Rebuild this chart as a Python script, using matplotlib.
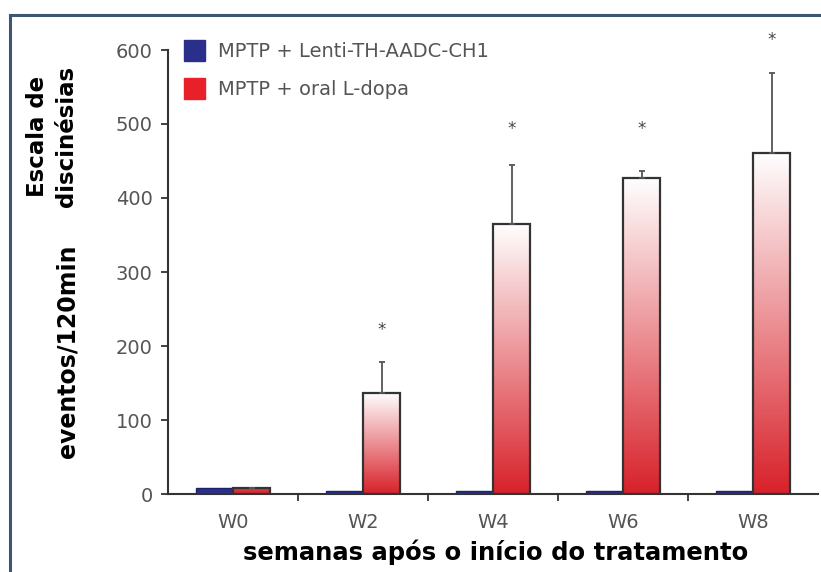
import numpy as np
import matplotlib
matplotlib.use("Agg")
import matplotlib.pyplot as plt
from matplotlib.colors import LinearSegmentedColormap
from matplotlib.patches import Patch
from matplotlib.lines import Line2D

# data
categories = ['W0', 'W2', 'W4', 'W6', 'W8']
lenti = [8, 4, 4, 4, 4]
ldopa = [8, 137, 365, 427, 461]
ldopa_err = [0, 41, 80, 9, 108]
star_y = [None, 222, 493, 493, 614]
yticks = [0, 100, 200, 300, 400, 500, 600]

W, H = 821, 572
fig = plt.figure(figsize=(W / 100, H / 100), dpi=100)
ax = fig.add_axes([168 / W, 78 / H, 650 / W, 444 / H])

grad_cmap = LinearSegmentedColormap.from_list('redfade', ['#d8212a', '#ffffff'])
grad = np.linspace(0, 1, 256).reshape(-1, 1)

x = np.arange(len(categories))
bw = 0.285

# blue bars
ax.bar(x - bw / 2, lenti, bw, color='#2b2f8c', edgecolor='#1e2266', linewidth=1.0, zorder=2)

# red gradient bars (very short bars stay fully red)
for xi, h in zip(x, ldopa):
    ax.imshow(grad * min(1.0, h / 60), extent=[xi, xi + bw, 0, h], origin='lower',
              aspect='auto', cmap=grad_cmap, vmin=0, vmax=1, zorder=2,
              interpolation='bilinear')
ax.bar(x + bw / 2, ldopa, bw, facecolor='none', edgecolor='#333333', linewidth=1.6, zorder=3)

# upper error bars
ax.errorbar(x + bw / 2, ldopa, yerr=[np.zeros(len(ldopa)), ldopa_err], fmt='none',
            ecolor='#555555', elinewidth=1.3, capsize=2, capthick=1.3, zorder=3)

for xi, sy in zip(x, star_y):
    if sy is not None:
        ax.text(xi + bw / 2, sy, '*', ha='center', va='center', fontsize=12,
                color='#444444', clip_on=False)

ax.set_xlim(-0.5, 4.5)
ax.set_ylim(0, 600)
ax.set_yticks(yticks)
ax.set_xticks(x)
ax.set_xticklabels(categories)
ax.set_xticks(x[:-1] + 0.5, minor=True)
ax.tick_params(axis='x', which='major', length=0, pad=14, labelsize=14, labelcolor='#555555')
ax.tick_params(axis='x', which='minor', length=5, width=1.3, color='#333333', direction='out')
ax.tick_params(axis='y', length=5, width=1.3, color='#333333', pad=6, labelsize=14,
               labelcolor='#555555')
for s in ['top', 'right']:
    ax.spines[s].set_visible(False)
for s in ['left', 'bottom']:
    ax.spines[s].set_color('#333333')
    ax.spines[s].set_linewidth(1.5)

handles = [Patch(facecolor='#2b2f8c', edgecolor='#2b2f8c'),
           Patch(facecolor='#e8202a', edgecolor='#e8202a')]
fig.legend(handles, ['MPTP + Lenti-TH-AADC-CH1', 'MPTP + oral L-dopa'],
           loc='upper left', bbox_to_anchor=(184 / W, 1 - 40 / H), frameon=False,
           fontsize=14, labelcolor='#555555', handlelength=1.1, handleheight=1.3,
           handletextpad=0.65, labelspacing=0.85, borderpad=0, borderaxespad=0)

fig.text(52 / W, 1 - 136 / H, 'Escala de\ndiscinésias', rotation=90, ha='center',
         va='center', fontsize=16.5, fontweight='bold', multialignment='center',
         linespacing=1.3)
fig.text(67 / W, 1 - 351 / H, 'eventos/120min', rotation=90, ha='center', va='center',
         fontsize=17, fontweight='bold')
fig.text(496 / W, 1 - 552 / H, 'semanas após o início do tratamento', ha='center',
         va='center', fontsize=17.5, fontweight='bold')

# frame lines at left and top of the picture
fig.add_artist(Line2D([10 / W, 10 / W], [0, 1 - 15 / H], color='#3f5673', lw=2.2))
fig.add_artist(Line2D([10 / W, 1], [1 - 15 / H, 1 - 15 / H], color='#3f5673', lw=2.2))

fig.savefig('out.png', dpi=100)
